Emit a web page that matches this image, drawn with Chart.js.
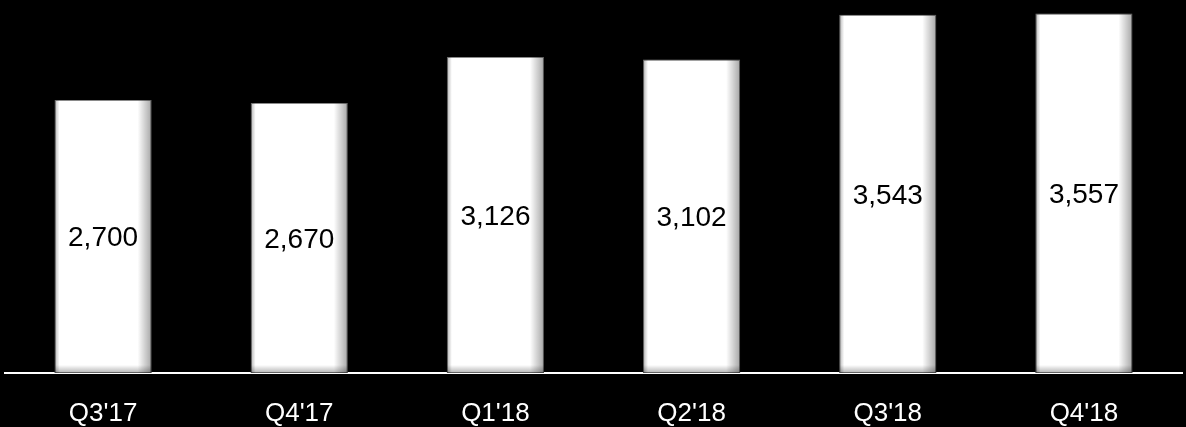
<!DOCTYPE html>
<html>
<head>
<meta charset="utf-8">
<script src="https://cdn.jsdelivr.net/npm/chart.js@4/dist/chart.umd.min.js"></script>
<style>
  html, body { margin: 0; padding: 0; background: #000; }
  #wrap { width: 1186px; height: 427px; }
</style>
</head>
<body>
<div id="wrap"><canvas id="qChart" width="1186" height="427"></canvas></div>
<script>
// ===== DATA =====
const quarters = ["Q3'17", "Q4'17", "Q1'18", "Q2'18", "Q3'18", "Q4'18"];
const values = [2700, 2670, 3126, 3102, 3543, 3557];

// shade the bar edges and write the value in the middle of each bar
const barDecor = {
    id: 'barDecor',
    afterDatasetsDraw(chart) {
        const ctx = chart.ctx;
        const meta = chart.getDatasetMeta(0);
        meta.data.forEach((bar, i) => {
            const left = bar.x - bar.width / 2;
            const right = bar.x + bar.width / 2;
            const top = bar.y;
            const bottom = bar.base;

            ctx.save();
            // right edge shadow
            let g = ctx.createLinearGradient(right - 14, 0, right, 0);
            g.addColorStop(0, 'rgba(0,0,0,0)');
            g.addColorStop(1, 'rgba(0,0,0,0.35)');
            ctx.fillStyle = g;
            ctx.fillRect(right - 14, top, 14, bottom - top);
            // left edge shadow
            g = ctx.createLinearGradient(left, 0, left + 5, 0);
            g.addColorStop(0, 'rgba(0,0,0,0.3)');
            g.addColorStop(1, 'rgba(0,0,0,0)');
            ctx.fillStyle = g;
            ctx.fillRect(left, top, 5, bottom - top);
            // bottom edge shadow
            g = ctx.createLinearGradient(0, bottom - 8, 0, bottom);
            g.addColorStop(0, 'rgba(0,0,0,0)');
            g.addColorStop(1, 'rgba(0,0,0,0.3)');
            ctx.fillStyle = g;
            ctx.fillRect(left, bottom - 8, right - left, 8);

            // value label
            ctx.fillStyle = '#000';
            ctx.font = '28px "Liberation Sans", Arial, sans-serif';
            ctx.textAlign = 'center';
            ctx.textBaseline = 'middle';
            ctx.fillText(values[i].toLocaleString('en-US'), bar.x, (top + bottom) / 2 + 2);
            ctx.restore();
        });
    }
};

const ctx = document.getElementById('qChart').getContext('2d');
new Chart(ctx, {
    type: 'bar',
    data: {
        labels: quarters,
        datasets: [{
            data: values,
            backgroundColor: '#ffffff',
            borderColor: '#8a8a8a',
            borderWidth: 1,
            borderSkipped: false,
            categoryPercentage: 1.0,
            barPercentage: 0.495
        }]
    },
    options: {
        responsive: false,
        animation: false,
        layout: { padding: { left: 5, right: 4, top: 0, bottom: 0 } },
        plugins: {
            legend: { display: false },
            tooltip: { enabled: false }
        },
        scales: {
            x: {
                grid: { display: false, drawTicks: false },
                border: { display: true, color: '#ffffff', width: 2 },
                ticks: {
                    color: '#ffffff',
                    padding: 25,
                    font: { family: '"Liberation Sans", Arial, sans-serif', size: 26, lineHeight: 1.2 }
                },
                afterFit(scale) {
                    scale.height = 54;
                }
            },
            y: {
                display: false,
                min: 0,
                max: 3690
            }
        }
    },
    plugins: [barDecor]
});
</script>
</body>
</html>
